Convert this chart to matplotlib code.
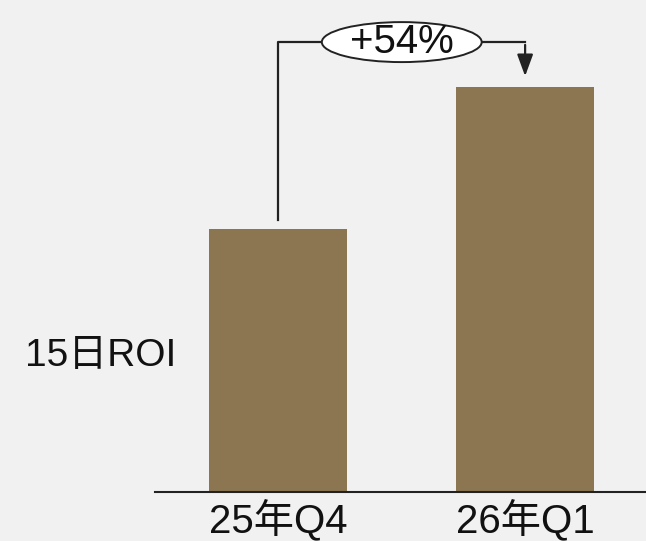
import matplotlib.pyplot as plt
from matplotlib.patches import Ellipse

# dados do grafico
categorias = ['25年Q4', '26年Q1']
roi_15d = [1.00, 1.54]
rotulo_y = '15日ROI'

plt.rcParams['font.family'] = ['Liberation Sans', 'Noto Sans CJK SC', 'DejaVu Sans']

cor_fundo = '#f1f1f1'
cor_barra = '#8c7652'
cor_texto = '#111111'

fig = plt.figure(figsize=(6.46, 5.41), dpi=100, facecolor=cor_fundo)
ax = fig.add_axes([0.24, 0.0906, 0.76, 0.9094])
ax.set_facecolor(cor_fundo)

x = list(range(len(categorias)))
ax.bar(x, roi_15d, width=0.56, color=cor_barra, zorder=2)

ax.set_xlim(-0.5, 1.49)
ax.set_ylim(0, 1.87)
for s in ['top', 'right', 'left']:
    ax.spines[s].set_visible(False)
ax.spines['bottom'].set_linewidth(1.5)
ax.spines['bottom'].set_color('#222222')
ax.set_yticks([])
ax.set_xticks(x)
ax.set_xticklabels(categorias, fontsize=29, color=cor_texto)
ax.tick_params(axis='x', length=0, pad=5)

fig.text(0.039, 0.342, rotulo_y, fontsize=28, color=cor_texto, ha='left', va='center')

# colchete com variacao percentual
topo = 1.71
ax.plot([x[0], x[0], x[1]], [roi_15d[0] + 0.034, topo, topo], color='#222222', lw=1.6, zorder=3)
ax.annotate('', xy=(x[1], roi_15d[1] + 0.03), xytext=(x[1], topo),
            arrowprops=dict(arrowstyle='-|>,head_length=0.6,head_width=0.22', color='#222222',
                            lw=1.6, mutation_scale=22), zorder=3)
meio = (x[0] + x[1]) / 2
ax.add_patch(Ellipse((meio, topo), 0.648, 0.152, facecolor='white', edgecolor='#222222', lw=1.4, zorder=4))
var = (roi_15d[1] / roi_15d[0] - 1) * 100
ax.text(meio, topo, '+{:.0f}%'.format(var), fontsize=29, ha='center', va='center', color=cor_texto, zorder=5)

fig.savefig('out.png', dpi=100, facecolor=cor_fundo)
